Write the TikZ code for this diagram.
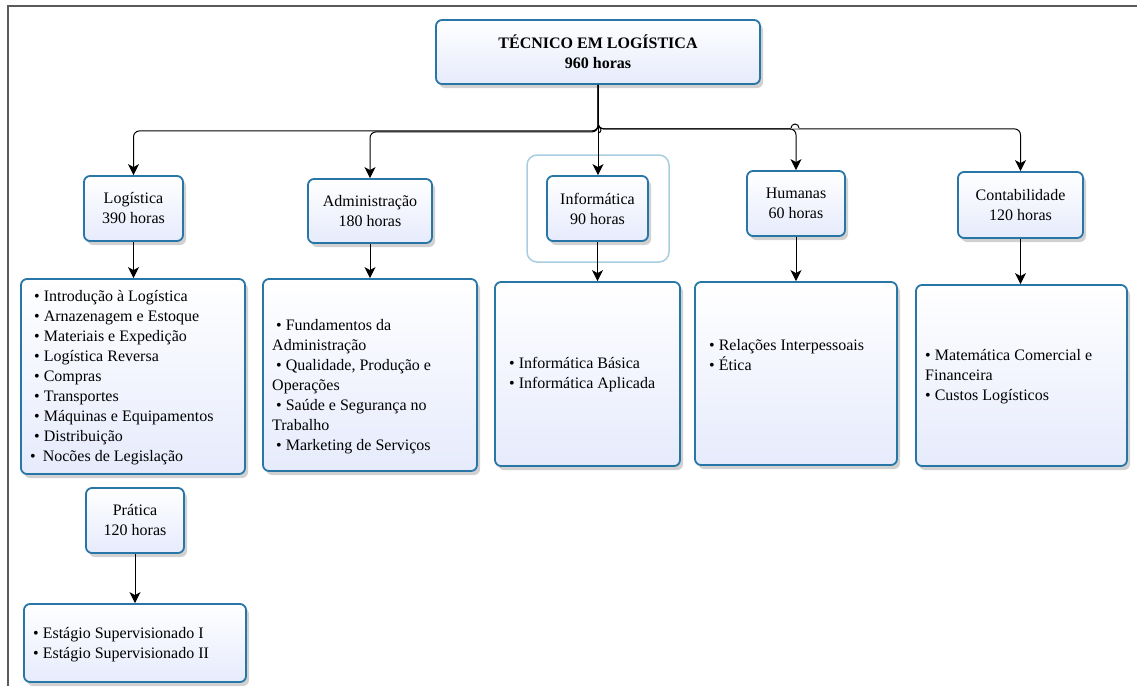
\documentclass[tikz,border=0pt]{standalone}
\usepackage{fontspec}
\setmainfont{Liberation Serif}
\usetikzlibrary{arrows.meta,shadows,fit}
\definecolor{boxblue}{RGB}{40,118,166}
\definecolor{boxfill}{RGB}{230,235,252}
\definecolor{grpblue}{RGB}{168,206,224}
\definecolor{framegray}{RGB}{90,90,90}
\begin{document}
\begin{tikzpicture}[x=1pt,y=-1pt,
  box/.style={draw=boxblue,line width=1.8pt,rounded corners=6pt,top color=white,bottom color=boxfill,
    drop shadow={shadow xshift=3pt,shadow yshift=-4pt,opacity=0.18,fill=black},inner sep=0pt},
  lbl/.style={box,align=center,font=\fontsize{16}{20}\selectfont},
  txt/.style={align=left,inner sep=0pt,anchor=west,font=\fontsize{16}{20}\selectfont},
  arr/.style={draw=black,line width=1pt,-{Stealth[length=11pt,width=11pt,inset=3pt]}},
  hop/.style={draw=black,line width=1pt}
]
\useasboundingbox (0,0) rectangle (1137,686);
\fill[white] (0,0) rectangle (1137,686);
\draw[framegray,line width=1.5pt] (8,686) -- (8,6) -- (1137,6);

% top
\node[lbl,font=\bfseries\fontsize{16}{20}\selectfont,minimum width=324pt,minimum height=64pt] (top) at (598,52) {TÉCNICO EM LOGÍSTICA\\960 horas};

% group frame around Informática
\node[draw=grpblue,line width=1.5pt,rounded corners=10pt,fit={(527,155) (669,262)},inner sep=0pt] (infgrp) {};

% level 1
\node[lbl,minimum width=99pt,minimum height=65pt] (log) at (133.5,208.5) {Logística\\390 horas};
\node[lbl,minimum width=124pt,minimum height=64pt] (adm) at (370,211) {Administração\\180 horas};
\node[lbl,minimum width=101pt,minimum height=65pt] (inf) at (597.5,208.5) {Informática\\90 horas};
\node[lbl,minimum width=98pt,minimum height=65pt] (hum) at (796,203.5) {Humanas\\60 horas};
\node[lbl,minimum width=125pt,minimum height=66pt] (con) at (1020.5,205) {Contabilidade\\120 horas};
\node[lbl,minimum width=98pt,minimum height=65pt] (pra) at (135,520.5) {Prática\\120 horas};

% level 2 boxes
\node[box,fit={(21,279) (245,474)}] (loglist) {};
\node[box,fit={(263,279) (477,471)}] (admlist) {};
\node[box,fit={(495,282) (680,466)}] (inflist) {};
\node[box,fit={(695,282) (897,465)}] (humlist) {};
\node[box,fit={(916,285) (1127,466)}] (conlist) {};
\node[box,fit={(24,604) (246,682)}] (estlist) {};

% texts
\node[txt] (logtxt) at (30,378) {\hspace*{4pt}• Introdução à Logística\\\hspace*{4pt}• Arnazenagem e Estoque\\\hspace*{4pt}• Materiais e Expedição\\\hspace*{4pt}• Logística Reversa\\\hspace*{4pt}• Compras\\\hspace*{4pt}• Transportes\\\hspace*{4pt}• Máquinas e Equipamentos\\\hspace*{4pt}• Distribuição\\• \hspace*{3pt}Nocões de Legislação};
\node[txt] (admtxt) at (272,387) {\hspace*{4pt}• Fundamentos da\\Administração\\\hspace*{4pt}• Qualidade, Produção e\\Operações\\\hspace*{4pt}• Saúde e Segurança no\\Trabalho\\\hspace*{4pt}• Marketing de Serviços};
\node[txt] (inftxt) at (509,375) {• Informática Básica\\• Informática Aplicada};
\node[txt] (humtxt) at (709,355) {• Relações Interpessoais\\• Ética};
\node[txt] (context) at (925,377) {• Matemática Comercial e\\Financeira\\• Custos Logísticos};
\node[txt] (esttxt) at (33,645) {• Estágio Supervisionado I\\• Estágio Supervisionado II};

% connectors from top (top.south is at y=84)
\draw[arr,rounded corners=6pt] (top.south) -- ++(0,46) -| (log.north);
\draw[arr,rounded corners=6pt] (top.south) -- ++(0,47) -| (adm.north);
\draw[arr] (top.south) -- (top.south |- inf.north);
\draw[arr,rounded corners=6pt] (top.south) -- ++(0,44) -| (hum.north);
\draw[arr,rounded corners=6pt] (top.south) -- ++(0,44) -| (con.north);
% line hops
\draw[hop] (598,127) arc[start angle=-90,end angle=90,radius=3];
\fill[white] (791,128.6) arc[start angle=180,end angle=360,radius=4] -- cycle;
\draw[hop] (791,128) arc[start angle=180,end angle=360,radius=4];

% level 1 -> level 2
\draw[arr] (log.south) -- (log.south |- loglist.north);
\draw[arr] (adm.south) -- (adm.south |- admlist.north);
\draw[arr] (inf.south) -- (inf.south |- inflist.north);
\draw[arr] (hum.south) -- (hum.south |- humlist.north);
\draw[arr] (con.south) -- (con.south |- conlist.north);
\draw[arr] (pra.south) -- (pra.south |- estlist.north);
\end{tikzpicture}
\end{document}
